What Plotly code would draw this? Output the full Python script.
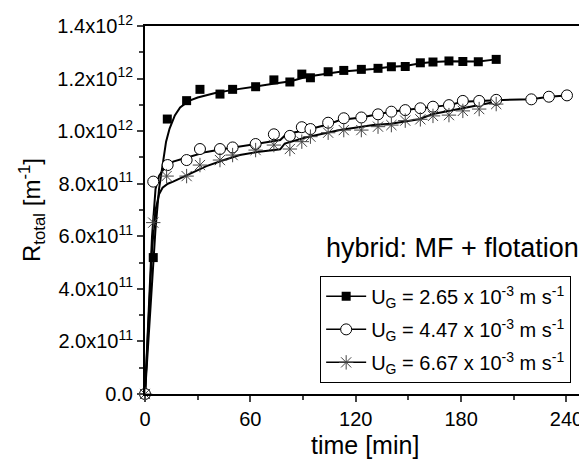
import numpy as np
import plotly.graph_objects as go

# measured points, R_total in 1e12 m^-1
t_sq = [0, 4.7, 12.7, 23.7, 31.3, 42.7, 49.9, 63, 73.4, 82.5, 89.3, 94.2, 104.3, 113.2,
        123.2, 132.7, 140.3, 148.2, 156.8, 164, 173.1, 181, 189.8, 200]
r_sq = [0, 0.519, 1.046, 1.116, 1.159, 1.141, 1.159, 1.169, 1.195, 1.187, 1.217, 1.203, 1.226, 1.231,
        1.235, 1.239, 1.245, 1.246, 1.260, 1.263, 1.267, 1.265, 1.264, 1.273]

t_ci = [0, 4.7, 12.9, 23.7, 31.3, 42.7, 49.9, 63, 73.4, 82.5, 89.3, 94.2, 104.3, 113.2,
        123.2, 132.7, 140.3, 148.2, 156.8, 164, 173.1, 181, 190.3, 200, 220, 230, 240.3]
r_ci = [0, 0.808, 0.871, 0.890, 0.932, 0.932, 0.938, 0.951, 0.988, 0.982, 1.015, 1.008, 1.032, 1.049,
        1.052, 1.064, 1.074, 1.080, 1.087, 1.093, 1.099, 1.115, 1.115, 1.119, 1.121, 1.131, 1.136]

t_st = [0, 4.7, 12.3, 23.7, 31.3, 42.7, 49.9, 63, 73.4, 82.5, 89.3, 94.2, 104.3, 113.2,
        123.2, 132.7, 140.3, 148.2, 156.8, 164, 173.1, 181, 190.3, 200]
r_st = [0, 0.652, 0.829, 0.829, 0.871, 0.890, 0.909, 0.928, 0.947, 0.932, 0.960, 0.979, 0.994, 1.004,
        1.004, 1.017, 1.023, 1.040, 1.045, 1.058, 1.061, 1.077, 1.084, 1.103]

# fitted curves
ft_sq = [0, 2, 4, 6, 8, 10, 12, 14, 17, 20, 25, 30, 40, 50, 60, 73, 83, 92, 111, 130,
         140, 148, 157, 164, 173, 181, 190, 200]
fr_sq = [0, 0.2, 0.42, 0.63, 0.78, 0.88, 0.96, 1.01, 1.06, 1.09, 1.115, 1.128, 1.145, 1.157, 1.166,
         1.18, 1.19, 1.207, 1.226, 1.236, 1.245, 1.248, 1.258, 1.263, 1.266, 1.266, 1.265, 1.273]

ft_ci = [0, 2, 4, 6, 8, 10, 13, 16, 24, 35, 43, 54, 63, 77, 80.6, 92, 104, 111, 123, 130,
         140, 148, 157, 164, 173, 181, 190, 200, 220, 230, 240]
fr_ci = [0, 0.3, 0.6, 0.78, 0.83, 0.85, 0.868, 0.884, 0.9, 0.921, 0.93, 0.941, 0.95, 0.966, 0.989,
         1.004, 1.025, 1.042, 1.052, 1.061, 1.074, 1.08, 1.087, 1.093, 1.099, 1.112, 1.115, 1.118,
         1.121, 1.131, 1.136]

ft_st = [0, 2, 4, 6, 8, 10, 13, 16, 20, 26, 35, 45, 54, 65, 77, 79.6, 92, 111, 130, 140, 156,
         164, 200]
fr_st = [0, 0.27, 0.55, 0.7, 0.76, 0.785, 0.8, 0.808, 0.82, 0.839, 0.867, 0.89, 0.909, 0.922, 0.931,
         0.953, 0.977, 1.004, 1.023, 1.028, 1.045, 1.065, 1.112]

labels = ["U<sub>G</sub> = 2.65 x 10<sup>-3</sup> m s<sup>-1</sup>",
          "U<sub>G</sub> = 4.47 x 10<sup>-3</sup> m s<sup>-1</sup>",
          "U<sub>G</sub> = 6.67 x 10<sup>-3</sup> m s<sup>-1</sup>"]

y_ticks = [0, 0.2, 0.4, 0.6, 0.8, 1.0, 1.2, 1.4]
y_ticklabels = ["0.0", "2.0x10<sup>11</sup>", "4.0x10<sup>11</sup>", "6.0x10<sup>11</sup>",
                "8.0x10<sup>11</sup>", "1.0x10<sup>12</sup>", "1.2x10<sup>12</sup>",
                "1.4x10<sup>12</sup>"]

E = 1e12
FONT = "Arial, Liberation Sans, sans-serif"

markers = [
    dict(symbol="square", size=9, color="black", line=dict(width=0)),
    dict(symbol="circle", size=11, color="white", line=dict(width=1, color="black")),
    dict(symbol="asterisk-open", size=12, color="#444", line=dict(width=1, color="#444")),
]

fig = go.Figure()
series = [(t_sq, r_sq, ft_sq, fr_sq), (t_ci, r_ci, ft_ci, fr_ci), (t_st, r_st, ft_st, fr_st)]

for (t, r, ft, fr), m in zip(series, markers):
    fig.add_trace(go.Scatter(x=ft, y=np.array(fr) * E, mode="lines",
                             line=dict(color="black", width=2), showlegend=False,
                             cliponaxis=False))
for (t, r, ft, fr), m in zip(series, markers):
    fig.add_trace(go.Scatter(x=t, y=np.array(r) * E, mode="markers", marker=m,
                             showlegend=False, cliponaxis=False))
for i, (lab, m) in enumerate(zip(labels, markers)):
    fig.add_trace(go.Scatter(x=[None], y=[None], mode="lines+markers", name=lab,
                             legendgroup=str(i),
                             marker=m, line=dict(color="black", width=1.5)))

fig.add_annotation(text="hybrid: MF + flotation", xref="paper", yref="paper",
                   x=0.408, y=0.397, xanchor="left", yanchor="middle", showarrow=False,
                   font=dict(size=27, color="black", family=FONT))
# x axis title as annotation so it can sit exactly where the reference has it
fig.add_annotation(text="time [min]", xref="paper", yref="paper",
                   x=0.5, y=-0.138, xanchor="center", yanchor="middle", showarrow=False,
                   font=dict(size=25, color="black", family=FONT))

# page body adds an 8px offset, so the figure is drawn 8px smaller
fig.update_layout(
    width=579, height=451,
    margin=dict(l=137, r=3, t=18, b=65),
    paper_bgcolor="white", plot_bgcolor="white",
    font=dict(family=FONT, color="black"),
    legend=dict(x=0.399, y=0.321, xanchor="left", yanchor="top",
                bordercolor="black", borderwidth=1, bgcolor="white",
                font=dict(size=20), tracegroupgap=4, itemwidth=40),
    xaxis=dict(range=[0, 250], tickvals=[0, 60, 120, 180, 240], ticks="outside",
               ticklen=6, tickwidth=1.5, showline=True, linecolor="black", linewidth=2,
               mirror=True, showgrid=False, zeroline=False, automargin=False,
               tickfont=dict(size=20),
               minor=dict(tickvals=[30, 90, 150, 210], ticks="outside", ticklen=4,
                          tickwidth=1.5, showgrid=False)),
    yaxis=dict(range=[0, 1.4 * E], tickvals=np.array(y_ticks) * E, ticktext=y_ticklabels,
               ticks="outside", ticklen=6, tickwidth=1.5, showline=True, linecolor="black",
               linewidth=2, mirror=True, showgrid=False, zeroline=False, automargin=False,
               tickfont=dict(size=20),
               minor=dict(tickvals=np.arange(0.1, 1.4, 0.2) * E, ticks="outside",
                          ticklen=4, tickwidth=1.5, showgrid=False),
               title=dict(text="R<sub>total</sub> [m<sup>-1</sup>]", font=dict(size=24),
                          standoff=10)),
)

fig.write_html("out.html")
